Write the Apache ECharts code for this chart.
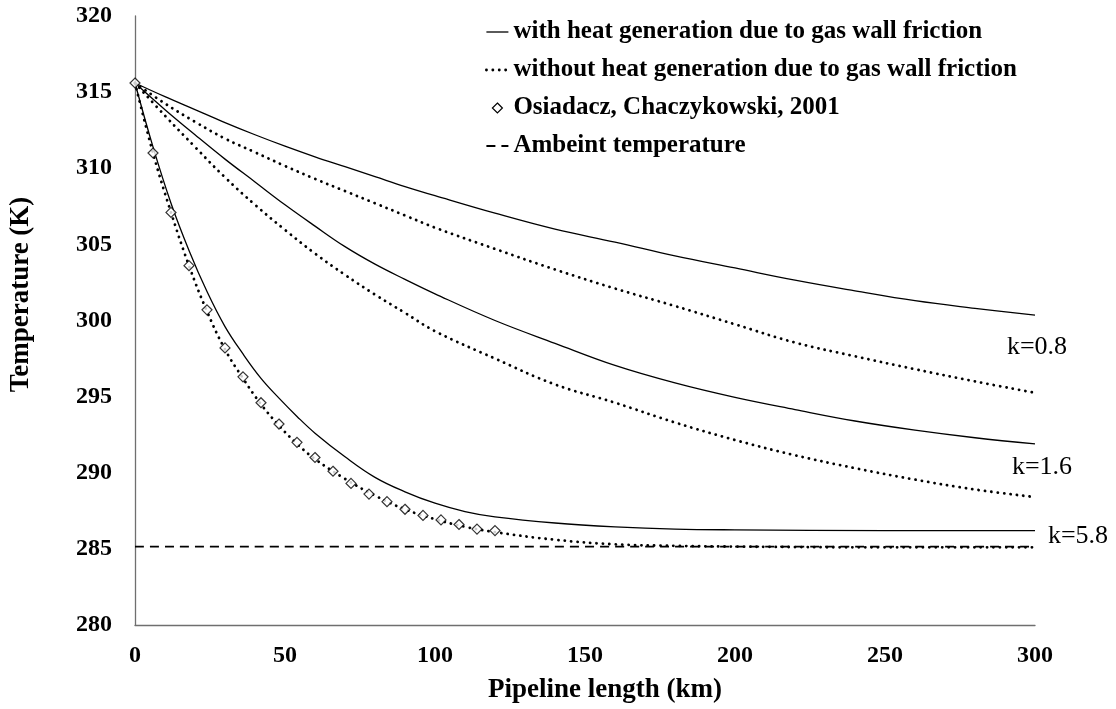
<!DOCTYPE html>
<html>
<head>
<meta charset="utf-8">
<script src="https://cdn.jsdelivr.net/npm/echarts@6/dist/echarts.min.js"></script>
<style>
html,body{margin:0;padding:0;background:#fff;}
#chart{width:1116px;height:709px;}
</style>
</head>
<body>
<div id="chart"></div>
<script>
// ---- data ----
const seriesNames = [
  'with heat generation due to gas wall friction',
  'without heat generation due to gas wall friction',
  'Osiadacz, Chaczykowski, 2001',
  'Ambeint temperature'
];
const kLabels = ['k=0.8', 'k=1.6', 'k=5.8'];

const kmWide = [0,10,20,30,40,50,60,70,80,90,100,120,140,160,180,200,220,240,260,280,300];
const withK08 = [315.6,314.7,313.85,313.0,312.2,311.45,310.75,310.1,309.45,308.8,308.2,307.05,306.0,305.15,304.25,303.45,302.65,301.95,301.3,300.8,300.35];
const withoutK08 = [315.6,314.25,313.05,311.95,311.05,310.15,309.3,308.5,307.7,306.9,306.1,304.7,303.35,302.1,300.95,299.75,298.55,297.65,296.8,296.0,295.25];
const withK16 = [315.6,313.85,312.2,310.6,309.1,307.6,306.2,304.85,303.7,302.7,301.75,300.0,298.5,297.05,295.9,294.95,294.15,293.4,292.8,292.3,291.9];
const withoutK16 = [315.6,313.45,311.4,309.4,307.6,305.95,304.4,303.0,301.7,300.5,299.3,297.5,295.8,294.6,293.3,292.15,291.15,290.3,289.55,288.9,288.4];

const kmFine = [0,6,12,18,24,30,36,42,48,54,60,70,80,90,100,110,120,140,160,180,200,250,300];
const withK58 = [315.6,311.4,307.7,304.6,301.9,299.6,297.8,296.2,294.9,293.7,292.6,291.05,289.7,288.75,288.0,287.45,287.1,286.7,286.45,286.3,286.25,286.2,286.2];
const withoutK58 = [315.6,311.0,307.1,303.6,300.6,298.1,296.2,294.5,293.1,291.9,290.9,289.6,288.5,287.6,286.95,286.45,286.1,285.6,285.3,285.2,285.15,285.1,285.1];

const kmRef = [0,6,12,18,24,30,36,42,48,54,60,66,72,78,84,90,96,102,108,114,120];
const refT = [315.6,311.0,307.1,303.6,300.7,298.2,296.3,294.6,293.2,292.0,291.0,290.1,289.3,288.6,288.1,287.6,287.2,286.9,286.6,286.3,286.2];

const kmAmb = [0, 300];
const ambT = [285.15, 285.15];

const xTicks = [0, 300, 50];   // min, max, interval
const yTicks = [280, 320, 5];

// ---- chart ----
const zip = (xs, ys) => xs.map((x, i) => [x, ys[i]]);
const serif = '"Liberation Serif", "Times New Roman", serif';

const solidStyle = { color: '#000', width: 1.3, type: 'solid' };
const dotStyle = { color: '#000', width: 2.8, type: [0.1, 6.3], cap: 'round' };

function kMark(txt, x, y, off) {
  return {
    symbol: 'circle', symbolSize: 0, silent: true,
    data: [{ coord: [x, y] }],
    label: {
      show: true, position: 'inside', formatter: txt, offset: off,
      color: '#000', fontFamily: serif, fontSize: 26, fontWeight: 'normal'
    }
  };
}

function lineSeries(name, xs, ys, style, mark) {
  const s = {
    name: name, type: 'line', data: zip(xs, ys),
    symbol: 'none', smooth: 0.4,
    lineStyle: style, itemStyle: { color: '#000' },
    z: 3, animation: false
  };
  if (mark) s.markPoint = mark;
  return s;
}

const diamondIcon = 'path://M-2,-2 M12,12 M5,0 L10,5 L5,10 L0,5 Z';

const chart = echarts.init(document.getElementById('chart'), null, { renderer: 'canvas' });
chart.setOption({
  backgroundColor: '#fff',
  animation: false,
  grid: { left: 123, right: 81, top: 16, bottom: 82, containLabel: false },
  legend: {
    orient: 'vertical', left: 480, top: 14,
    itemWidth: 22, itemHeight: 14, itemGap: 12,
    itemStyle: { opacity: 0 },
    lineStyle: { width: 'inherit' },
    textStyle: { fontFamily: serif, fontSize: 25, fontWeight: 'bold', color: '#000', lineHeight: 26 },
    data: [
      { name: seriesNames[0] },
      { name: seriesNames[1] },
      { name: seriesNames[2], icon: diamondIcon, itemStyle: { color: '#fff', borderColor: '#000', borderWidth: 1.2, opacity: 1 } },
      { name: seriesNames[3] }
    ],
    selectedMode: false
  },
  xAxis: {
    type: 'value', min: xTicks[0], max: xTicks[1], interval: xTicks[2],
    name: 'Pipeline length (km)', nameLocation: 'middle', nameGap: 52,
    nameTextStyle: { fontFamily: serif, fontSize: 27, fontWeight: 'bold', color: '#000', padding: [0, 0, 0, 40] },
    axisLine: { show: true, lineStyle: { color: '#6f6f6f', width: 1.3 } },
    axisTick: { show: false },
    splitLine: { show: false },
    axisLabel: { margin: 19, fontFamily: serif, fontSize: 24, fontWeight: 'bold', color: '#000' }
  },
  yAxis: {
    type: 'value', min: yTicks[0], max: yTicks[1], interval: yTicks[2],
    name: 'Temperature (K)', nameLocation: 'middle', nameGap: 100, nameRotate: 90,
    nameTextStyle: { fontFamily: serif, fontSize: 27, fontWeight: 'bold', color: '#000', padding: [0, 0, 0, 52] },
    axisLine: { show: true, onZero: false, lineStyle: { color: '#6f6f6f', width: 1.3 } },
    axisTick: { show: false },
    splitLine: { show: false },
    axisLabel: { margin: 23, fontFamily: serif, fontSize: 24, fontWeight: 'bold', color: '#000' }
  },
  series: [
    lineSeries(seriesNames[0], kmWide, withK08, solidStyle, kMark(kLabels[0], 300, withK08[withK08.length-1], [2, 32])),
    lineSeries(seriesNames[0], kmWide, withK16, solidStyle, kMark(kLabels[1], 300, withK16[withK16.length-1], [7, 23])),
    lineSeries(seriesNames[0], kmFine, withK58, solidStyle, kMark(kLabels[2], 300, withK58[withK58.length-1], [43, 6])),
    lineSeries(seriesNames[1], kmWide, withoutK08, dotStyle),
    lineSeries(seriesNames[1], kmWide, withoutK16, dotStyle),
    lineSeries(seriesNames[1], kmFine, withoutK58, dotStyle),
    {
      name: seriesNames[2], type: 'scatter', data: zip(kmRef, refT),
      symbol: 'diamond', symbolSize: [10, 10],
      itemStyle: { color: '#fff', borderColor: '#000', borderWidth: 1.2 },
      z: 5, animation: false
    },
    lineSeries(seriesNames[3], kmAmb, ambT, { color: '#000', width: 1.8, type: [9, 6] })
  ]
});
</script>
</body>
</html>
